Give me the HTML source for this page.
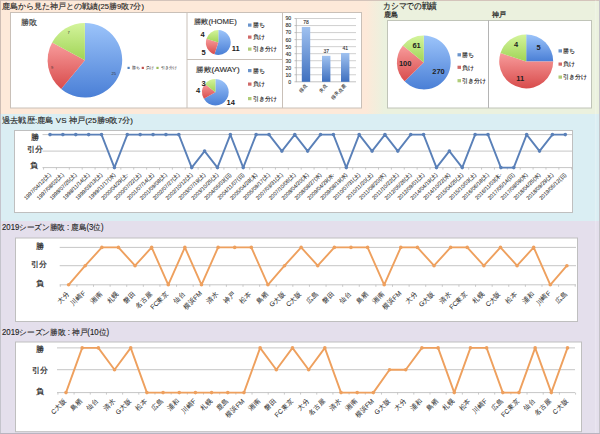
<!DOCTYPE html><html><head><meta charset="utf-8"><style>html,body{margin:0;padding:0;width:600px;height:434px;overflow:hidden;background:#fff}svg{display:block}text{font-family:'Liberation Sans',sans-serif}</style></head><body>
<svg width="600" height="434" viewBox="0 0 600 434">
<defs><linearGradient id="barg" x1="0" y1="0" x2="0" y2="1"><stop offset="0" stop-color="#a0c2f0"/><stop offset="1" stop-color="#3f70bf"/></linearGradient></defs>
<rect x="0" y="0" width="600" height="114" fill="#fde9d9"/>
<linearGradient id="pg" gradientUnits="userSpaceOnUse" x1="366" y1="0" x2="384" y2="0"><stop offset="0" stop-color="#fde9d9"/><stop offset="1" stop-color="#ebf1de"/></linearGradient>
<rect x="366" y="0" width="18" height="114" fill="url(#pg)"/>
<rect x="384" y="0" width="216" height="114" fill="#ebf1de"/>
<rect x="0" y="114" width="600" height="107" fill="#daeef3"/>
<line x1="0" y1="0.5" x2="600" y2="0.5" stroke="#d4c4bb" stroke-width="1"/>
<rect x="0" y="221" width="600" height="213" fill="#e4dfec"/>
<text x="2" y="8.6" font-size="7.6" text-anchor="start" fill="#222" font-weight="normal"  stroke="#222" stroke-width="0.12" textLength="142" lengthAdjust="spacingAndGlyphs">鹿島から見た神戸との戦績(25勝9敗7分)</text>
<text x="383.3" y="9" font-size="8.8" text-anchor="start" fill="#222" font-weight="normal"  stroke="#222" stroke-width="0.2" textLength="53.5" lengthAdjust="spacingAndGlyphs">カシマでの戦績</text>
<text x="383.8" y="16.8" font-size="6.6" text-anchor="start" fill="#222" font-weight="normal"  stroke="#222" stroke-width="0.22">鹿島</text>
<text x="491.8" y="16.9" font-size="6.6" text-anchor="start" fill="#222" font-weight="normal"  stroke="#222" stroke-width="0.22">神戸</text>
<rect x="10.5" y="12.5" width="351" height="95.5" fill="#fff" stroke="#c9c0b8" stroke-width="1"/>
<line x1="187" y1="12" x2="187" y2="108" stroke="#c9c0b8"/>
<line x1="187" y1="59.5" x2="282" y2="59.5" stroke="#c9c0b8"/>
<line x1="282.5" y1="12" x2="282.5" y2="108" stroke="#c9c0b8"/>
<text x="21.3" y="24.6" font-size="8" text-anchor="start" fill="#333" font-weight="normal"  stroke="#333" stroke-width="0.15">勝敗</text>
<linearGradient id="g1" x1="0" y1="0" x2="0" y2="1"><stop offset="0" stop-color="#9cc4fa"/><stop offset="1" stop-color="#4a7fd6"/></linearGradient>
<path d="M84.90,60.20 L84.90,22.90 A37.3,37.3 0 1 1 61.17,88.98 Z" fill="url(#g1)"/>
<linearGradient id="g2" x1="0" y1="0" x2="0" y2="1"><stop offset="0" stop-color="#f89c9c"/><stop offset="1" stop-color="#d84c4c"/></linearGradient>
<path d="M84.90,60.20 L61.17,88.98 A37.3,37.3 0 0 1 52.13,42.38 Z" fill="url(#g2)"/>
<linearGradient id="g3" x1="0" y1="0" x2="0" y2="1"><stop offset="0" stop-color="#d4f49c"/><stop offset="1" stop-color="#a0d456"/></linearGradient>
<path d="M84.90,60.20 L52.13,42.38 A37.3,37.3 0 0 1 84.90,22.90 Z" fill="url(#g3)"/>
<text x="67.6" y="34" font-size="4" text-anchor="start" fill="#333" font-weight="normal" >7</text>
<text x="51.1" y="69" font-size="4" text-anchor="start" fill="#333" font-weight="normal" >9</text>
<text x="111.5" y="74.6" font-size="4" text-anchor="start" fill="#333" font-weight="normal" >25</text>
<rect x="127.5" y="66.8" width="2.2" height="2.2" fill="#4f81bd"/>
<text x="131.7" y="69.4" font-size="4.1" text-anchor="start" fill="#222" font-weight="normal" >勝ち</text>
<rect x="141.7" y="66.8" width="2.2" height="2.2" fill="#c0504d"/>
<text x="145.89999999999998" y="69.4" font-size="4.1" text-anchor="start" fill="#222" font-weight="normal" >負け</text>
<rect x="156.4" y="66.8" width="2.2" height="2.2" fill="#9bbb59"/>
<text x="160.6" y="69.4" font-size="4.1" text-anchor="start" fill="#222" font-weight="normal" >引き分け</text>
<text x="193.8" y="23.6" font-size="7.4" text-anchor="start" fill="#333" font-weight="normal"  stroke="#333" stroke-width="0.15" textLength="43" lengthAdjust="spacingAndGlyphs">勝敗(HOME)</text>
<linearGradient id="g4" x1="0" y1="0" x2="0" y2="1"><stop offset="0" stop-color="#9cc4fa"/><stop offset="1" stop-color="#4a7fd6"/></linearGradient>
<path d="M218.30,42.50 L218.30,30.10 A12.4,12.4 0 1 1 214.47,54.29 Z" fill="url(#g4)"/>
<linearGradient id="g5" x1="0" y1="0" x2="0" y2="1"><stop offset="0" stop-color="#f89c9c"/><stop offset="1" stop-color="#d84c4c"/></linearGradient>
<path d="M218.30,42.50 L214.47,54.29 A12.4,12.4 0 0 1 206.51,38.67 Z" fill="url(#g5)"/>
<linearGradient id="g6" x1="0" y1="0" x2="0" y2="1"><stop offset="0" stop-color="#d4f49c"/><stop offset="1" stop-color="#a0d456"/></linearGradient>
<path d="M218.30,42.50 L206.51,38.67 A12.4,12.4 0 0 1 218.30,30.10 Z" fill="url(#g6)"/>
<text x="202.5" y="36.5" font-size="7.5" text-anchor="middle" fill="#222" font-weight="bold" >4</text>
<text x="203.6" y="55.4" font-size="7.5" text-anchor="middle" fill="#222" font-weight="bold" >5</text>
<text x="235.8" y="51.2" font-size="7.5" text-anchor="middle" fill="#222" font-weight="bold" >11</text>
<rect x="248" y="23.5" width="3.5" height="3.2" fill="#6a94cc"/>
<text x="252.5" y="27.4" font-size="6" fill="#222" stroke="#222" stroke-width="0.12">勝ち</text>
<rect x="248" y="35.5" width="3.5" height="3.2" fill="#d06a68"/>
<text x="252.5" y="39.4" font-size="6" fill="#222" stroke="#222" stroke-width="0.12">負け</text>
<rect x="248" y="47.5" width="3.5" height="3.2" fill="#b0cc78"/>
<text x="252.5" y="51.4" font-size="6" fill="#222" stroke="#222" stroke-width="0.12">引き分け</text>
<text x="196.3" y="72.2" font-size="7.4" text-anchor="start" fill="#333" font-weight="normal"  stroke="#333" stroke-width="0.15" textLength="43.3" lengthAdjust="spacingAndGlyphs">勝敗(AWAY)</text>
<linearGradient id="g7" x1="0" y1="0" x2="0" y2="1"><stop offset="0" stop-color="#9cc4fa"/><stop offset="1" stop-color="#4a7fd6"/></linearGradient>
<path d="M215.40,92.20 L215.40,78.90 A13.3,13.3 0 1 1 203.88,98.85 Z" fill="url(#g7)"/>
<linearGradient id="g8" x1="0" y1="0" x2="0" y2="1"><stop offset="0" stop-color="#f89c9c"/><stop offset="1" stop-color="#d84c4c"/></linearGradient>
<path d="M215.40,92.20 L203.88,98.85 A13.3,13.3 0 0 1 205.00,83.91 Z" fill="url(#g8)"/>
<linearGradient id="g9" x1="0" y1="0" x2="0" y2="1"><stop offset="0" stop-color="#d4f49c"/><stop offset="1" stop-color="#a0d456"/></linearGradient>
<path d="M215.40,92.20 L205.00,83.91 A13.3,13.3 0 0 1 215.40,78.90 Z" fill="url(#g9)"/>
<text x="203.7" y="86" font-size="7.5" text-anchor="middle" fill="#222" font-weight="bold" >3</text>
<text x="198" y="93" font-size="7.5" text-anchor="middle" fill="#222" font-weight="bold" >4</text>
<text x="230.7" y="105.2" font-size="7.5" text-anchor="middle" fill="#222" font-weight="bold" >14</text>
<rect x="248" y="69.0" width="3.5" height="3.2" fill="#6a94cc"/>
<text x="252.5" y="72.9" font-size="6" fill="#222" stroke="#222" stroke-width="0.12">勝ち</text>
<rect x="248" y="82.5" width="3.5" height="3.2" fill="#d06a68"/>
<text x="252.5" y="86.4" font-size="6" fill="#222" stroke="#222" stroke-width="0.12">負け</text>
<rect x="248" y="97.0" width="3.5" height="3.2" fill="#b0cc78"/>
<text x="252.5" y="100.9" font-size="6" fill="#222" stroke="#222" stroke-width="0.12">引き分け</text>
<line x1="294.5" y1="81.80" x2="296.3" y2="81.80" stroke="#999" stroke-width="0.6"/>
<text x="291.2" y="83.7" font-size="5.2" text-anchor="end" fill="#333" font-weight="normal"  stroke="#333" stroke-width="0.12">0</text>
<line x1="296.3" y1="74.77" x2="356" y2="74.77" stroke="#c4c4c4" stroke-width="0.8"/>
<line x1="294.5" y1="74.77" x2="296.3" y2="74.77" stroke="#999" stroke-width="0.6"/>
<text x="291.2" y="76.67" font-size="5.2" text-anchor="end" fill="#333" font-weight="normal"  stroke="#333" stroke-width="0.12">10</text>
<line x1="296.3" y1="67.74" x2="356" y2="67.74" stroke="#c4c4c4" stroke-width="0.8"/>
<line x1="294.5" y1="67.74" x2="296.3" y2="67.74" stroke="#999" stroke-width="0.6"/>
<text x="291.2" y="69.64" font-size="5.2" text-anchor="end" fill="#333" font-weight="normal"  stroke="#333" stroke-width="0.12">20</text>
<line x1="296.3" y1="60.71" x2="356" y2="60.71" stroke="#c4c4c4" stroke-width="0.8"/>
<line x1="294.5" y1="60.71" x2="296.3" y2="60.71" stroke="#999" stroke-width="0.6"/>
<text x="291.2" y="62.60999999999999" font-size="5.2" text-anchor="end" fill="#333" font-weight="normal"  stroke="#333" stroke-width="0.12">30</text>
<line x1="296.3" y1="53.68" x2="356" y2="53.68" stroke="#c4c4c4" stroke-width="0.8"/>
<line x1="294.5" y1="53.68" x2="296.3" y2="53.68" stroke="#999" stroke-width="0.6"/>
<text x="291.2" y="55.58" font-size="5.2" text-anchor="end" fill="#333" font-weight="normal"  stroke="#333" stroke-width="0.12">40</text>
<line x1="296.3" y1="46.65" x2="356" y2="46.65" stroke="#c4c4c4" stroke-width="0.8"/>
<line x1="294.5" y1="46.65" x2="296.3" y2="46.65" stroke="#999" stroke-width="0.6"/>
<text x="291.2" y="48.55" font-size="5.2" text-anchor="end" fill="#333" font-weight="normal"  stroke="#333" stroke-width="0.12">50</text>
<line x1="296.3" y1="39.62" x2="356" y2="39.62" stroke="#c4c4c4" stroke-width="0.8"/>
<line x1="294.5" y1="39.62" x2="296.3" y2="39.62" stroke="#999" stroke-width="0.6"/>
<text x="291.2" y="41.519999999999996" font-size="5.2" text-anchor="end" fill="#333" font-weight="normal"  stroke="#333" stroke-width="0.12">60</text>
<line x1="296.3" y1="32.59" x2="356" y2="32.59" stroke="#c4c4c4" stroke-width="0.8"/>
<line x1="294.5" y1="32.59" x2="296.3" y2="32.59" stroke="#999" stroke-width="0.6"/>
<text x="291.2" y="34.49" font-size="5.2" text-anchor="end" fill="#333" font-weight="normal"  stroke="#333" stroke-width="0.12">70</text>
<line x1="296.3" y1="25.56" x2="356" y2="25.56" stroke="#c4c4c4" stroke-width="0.8"/>
<line x1="294.5" y1="25.56" x2="296.3" y2="25.56" stroke="#999" stroke-width="0.6"/>
<text x="291.2" y="27.46" font-size="5.2" text-anchor="end" fill="#333" font-weight="normal"  stroke="#333" stroke-width="0.12">80</text>
<line x1="296.3" y1="18.53" x2="356" y2="18.53" stroke="#c4c4c4" stroke-width="0.8"/>
<line x1="294.5" y1="18.53" x2="296.3" y2="18.53" stroke="#999" stroke-width="0.6"/>
<text x="291.2" y="20.43" font-size="5.2" text-anchor="end" fill="#333" font-weight="normal"  stroke="#333" stroke-width="0.12">90</text>
<line x1="296.3" y1="18.53" x2="296.3" y2="81.8" stroke="#a8a8a8" stroke-width="0.7"/>
<line x1="296" y1="81.8" x2="356" y2="81.8" stroke="#a8a8a8" stroke-width="0.7"/>
<rect x="301.8" y="26.97" width="8.4" height="54.83" fill="url(#barg)"/>
<text x="306.05" y="24.466" font-size="5" text-anchor="middle" fill="#333" font-weight="normal"  stroke="#333" stroke-width="0.1">78</text>
<text x="307.8" y="85.8" font-size="4.6" text-anchor="end" fill="#333" stroke="#333" stroke-width="0.1" transform="rotate(-45 307.8 85.8)">得点</text>
<rect x="322" y="55.79" width="8.4" height="26.01" fill="url(#barg)"/>
<text x="326.25" y="53.289" font-size="5" text-anchor="middle" fill="#333" font-weight="normal"  stroke="#333" stroke-width="0.1">37</text>
<text x="328" y="85.8" font-size="4.6" text-anchor="end" fill="#333" stroke="#333" stroke-width="0.1" transform="rotate(-45 328 85.8)">失点</text>
<rect x="341" y="52.98" width="8.4" height="28.82" fill="url(#barg)"/>
<text x="345.25" y="50.477000000000004" font-size="5" text-anchor="middle" fill="#333" font-weight="normal"  stroke="#333" stroke-width="0.1">41</text>
<text x="347" y="85.8" font-size="4.6" text-anchor="end" fill="#333" stroke="#333" stroke-width="0.1" transform="rotate(-45 347 85.8)">得失点差</text>
<rect x="387.5" y="20.5" width="204" height="87.5" fill="#fff" stroke="#c0c4b8" stroke-width="1"/>
<line x1="488.5" y1="20" x2="488.5" y2="108" stroke="#b4b4b4"/>
<linearGradient id="g10" x1="0" y1="0" x2="0" y2="1"><stop offset="0" stop-color="#9cc4fa"/><stop offset="1" stop-color="#4a7fd6"/></linearGradient>
<path d="M423.80,62.50 L423.80,35.60 A26.9,26.9 0 1 1 404.61,81.35 Z" fill="url(#g10)"/>
<linearGradient id="g11" x1="0" y1="0" x2="0" y2="1"><stop offset="0" stop-color="#f89c9c"/><stop offset="1" stop-color="#d84c4c"/></linearGradient>
<path d="M423.80,62.50 L404.61,81.35 A26.9,26.9 0 0 1 402.91,45.55 Z" fill="url(#g11)"/>
<linearGradient id="g12" x1="0" y1="0" x2="0" y2="1"><stop offset="0" stop-color="#d4f49c"/><stop offset="1" stop-color="#a0d456"/></linearGradient>
<path d="M423.80,62.50 L402.91,45.55 A26.9,26.9 0 0 1 423.80,35.60 Z" fill="url(#g12)"/>
<text x="416.6" y="48.4" font-size="7.5" text-anchor="middle" fill="#222" font-weight="bold" >61</text>
<text x="405.2" y="66.3" font-size="7.5" text-anchor="middle" fill="#222" font-weight="bold" >100</text>
<text x="438.5" y="74" font-size="7.5" text-anchor="middle" fill="#222" font-weight="bold" >270</text>
<rect x="457.5" y="53.2" width="3.5" height="3.2" fill="#6a94cc"/>
<text x="462.0" y="57.1" font-size="6" fill="#222" stroke="#222" stroke-width="0.12">勝ち</text>
<rect x="457.5" y="65.7" width="3.5" height="3.2" fill="#d06a68"/>
<text x="462.0" y="69.60000000000001" font-size="6" fill="#222" stroke="#222" stroke-width="0.12">負け</text>
<rect x="457.5" y="79.1" width="3.5" height="3.2" fill="#b0cc78"/>
<text x="462.0" y="83.0" font-size="6" fill="#222" stroke="#222" stroke-width="0.12">引き分け</text>
<linearGradient id="g13" x1="0" y1="0" x2="0" y2="1"><stop offset="0" stop-color="#9cc4fa"/><stop offset="1" stop-color="#4a7fd6"/></linearGradient>
<path d="M526.20,61.40 L526.20,34.40 A27,27 0 0 1 553.20,61.40 Z" fill="url(#g13)"/>
<linearGradient id="g14" x1="0" y1="0" x2="0" y2="1"><stop offset="0" stop-color="#f89c9c"/><stop offset="1" stop-color="#d84c4c"/></linearGradient>
<path d="M526.20,61.40 L553.20,61.40 A27,27 0 1 1 500.52,53.06 Z" fill="url(#g14)"/>
<linearGradient id="g15" x1="0" y1="0" x2="0" y2="1"><stop offset="0" stop-color="#d4f49c"/><stop offset="1" stop-color="#a0d456"/></linearGradient>
<path d="M526.20,61.40 L500.52,53.06 A27,27 0 0 1 526.20,34.40 Z" fill="url(#g15)"/>
<text x="538.5" y="49.8" font-size="7.5" text-anchor="middle" fill="#222" font-weight="bold" >5</text>
<text x="516" y="47.1" font-size="7.5" text-anchor="middle" fill="#222" font-weight="bold" >4</text>
<text x="520.2" y="80.6" font-size="7.5" text-anchor="middle" fill="#222" font-weight="bold" >11</text>
<rect x="558.5" y="49.3" width="3.5" height="3.2" fill="#6a94cc"/>
<text x="563.0" y="53.199999999999996" font-size="6" fill="#222" stroke="#222" stroke-width="0.12">勝ち</text>
<rect x="558.5" y="62.5" width="3.5" height="3.2" fill="#d06a68"/>
<text x="563.0" y="66.4" font-size="6" fill="#222" stroke="#222" stroke-width="0.12">負け</text>
<rect x="558.5" y="75.5" width="3.5" height="3.2" fill="#b0cc78"/>
<text x="563.0" y="79.4" font-size="6" fill="#222" stroke="#222" stroke-width="0.12">引き分け</text>
<text x="2" y="123.3" font-size="7.8" text-anchor="start" fill="#222" font-weight="normal"  stroke="#222" stroke-width="0.12" textLength="131" lengthAdjust="spacingAndGlyphs">過去戦歴:鹿島 VS 神戸(25勝9敗7分)</text>
<rect x="14.5" y="130.5" width="558" height="82" fill="#fff" stroke="#bfbfbf" stroke-width="1"/>
<line x1="42.5" y1="134.6" x2="572" y2="134.6" stroke="#c6c6c6" stroke-width="1"/>
<line x1="42.5" y1="151.1" x2="572" y2="151.1" stroke="#c6c6c6" stroke-width="1"/>
<line x1="42.5" y1="167.6" x2="572" y2="167.6" stroke="#c6c6c6" stroke-width="1"/>
<line x1="43.56" y1="167.6" x2="43.56" y2="169.6" stroke="#bdbdbd" stroke-width="0.8"/>
<line x1="56.44" y1="167.6" x2="56.44" y2="169.6" stroke="#bdbdbd" stroke-width="0.8"/>
<line x1="69.32" y1="167.6" x2="69.32" y2="169.6" stroke="#bdbdbd" stroke-width="0.8"/>
<line x1="82.21" y1="167.6" x2="82.21" y2="169.6" stroke="#bdbdbd" stroke-width="0.8"/>
<line x1="95.09" y1="167.6" x2="95.09" y2="169.6" stroke="#bdbdbd" stroke-width="0.8"/>
<line x1="107.97" y1="167.6" x2="107.97" y2="169.6" stroke="#bdbdbd" stroke-width="0.8"/>
<line x1="120.85" y1="167.6" x2="120.85" y2="169.6" stroke="#bdbdbd" stroke-width="0.8"/>
<line x1="133.74" y1="167.6" x2="133.74" y2="169.6" stroke="#bdbdbd" stroke-width="0.8"/>
<line x1="146.62" y1="167.6" x2="146.62" y2="169.6" stroke="#bdbdbd" stroke-width="0.8"/>
<line x1="159.50" y1="167.6" x2="159.50" y2="169.6" stroke="#bdbdbd" stroke-width="0.8"/>
<line x1="172.38" y1="167.6" x2="172.38" y2="169.6" stroke="#bdbdbd" stroke-width="0.8"/>
<line x1="185.27" y1="167.6" x2="185.27" y2="169.6" stroke="#bdbdbd" stroke-width="0.8"/>
<line x1="198.15" y1="167.6" x2="198.15" y2="169.6" stroke="#bdbdbd" stroke-width="0.8"/>
<line x1="211.03" y1="167.6" x2="211.03" y2="169.6" stroke="#bdbdbd" stroke-width="0.8"/>
<line x1="223.91" y1="167.6" x2="223.91" y2="169.6" stroke="#bdbdbd" stroke-width="0.8"/>
<line x1="236.80" y1="167.6" x2="236.80" y2="169.6" stroke="#bdbdbd" stroke-width="0.8"/>
<line x1="249.68" y1="167.6" x2="249.68" y2="169.6" stroke="#bdbdbd" stroke-width="0.8"/>
<line x1="262.56" y1="167.6" x2="262.56" y2="169.6" stroke="#bdbdbd" stroke-width="0.8"/>
<line x1="275.44" y1="167.6" x2="275.44" y2="169.6" stroke="#bdbdbd" stroke-width="0.8"/>
<line x1="288.33" y1="167.6" x2="288.33" y2="169.6" stroke="#bdbdbd" stroke-width="0.8"/>
<line x1="301.21" y1="167.6" x2="301.21" y2="169.6" stroke="#bdbdbd" stroke-width="0.8"/>
<line x1="314.09" y1="167.6" x2="314.09" y2="169.6" stroke="#bdbdbd" stroke-width="0.8"/>
<line x1="326.97" y1="167.6" x2="326.97" y2="169.6" stroke="#bdbdbd" stroke-width="0.8"/>
<line x1="339.86" y1="167.6" x2="339.86" y2="169.6" stroke="#bdbdbd" stroke-width="0.8"/>
<line x1="352.74" y1="167.6" x2="352.74" y2="169.6" stroke="#bdbdbd" stroke-width="0.8"/>
<line x1="365.62" y1="167.6" x2="365.62" y2="169.6" stroke="#bdbdbd" stroke-width="0.8"/>
<line x1="378.50" y1="167.6" x2="378.50" y2="169.6" stroke="#bdbdbd" stroke-width="0.8"/>
<line x1="391.39" y1="167.6" x2="391.39" y2="169.6" stroke="#bdbdbd" stroke-width="0.8"/>
<line x1="404.27" y1="167.6" x2="404.27" y2="169.6" stroke="#bdbdbd" stroke-width="0.8"/>
<line x1="417.15" y1="167.6" x2="417.15" y2="169.6" stroke="#bdbdbd" stroke-width="0.8"/>
<line x1="430.03" y1="167.6" x2="430.03" y2="169.6" stroke="#bdbdbd" stroke-width="0.8"/>
<line x1="442.92" y1="167.6" x2="442.92" y2="169.6" stroke="#bdbdbd" stroke-width="0.8"/>
<line x1="455.80" y1="167.6" x2="455.80" y2="169.6" stroke="#bdbdbd" stroke-width="0.8"/>
<line x1="468.68" y1="167.6" x2="468.68" y2="169.6" stroke="#bdbdbd" stroke-width="0.8"/>
<line x1="481.56" y1="167.6" x2="481.56" y2="169.6" stroke="#bdbdbd" stroke-width="0.8"/>
<line x1="494.45" y1="167.6" x2="494.45" y2="169.6" stroke="#bdbdbd" stroke-width="0.8"/>
<line x1="507.33" y1="167.6" x2="507.33" y2="169.6" stroke="#bdbdbd" stroke-width="0.8"/>
<line x1="520.21" y1="167.6" x2="520.21" y2="169.6" stroke="#bdbdbd" stroke-width="0.8"/>
<line x1="533.09" y1="167.6" x2="533.09" y2="169.6" stroke="#bdbdbd" stroke-width="0.8"/>
<line x1="545.98" y1="167.6" x2="545.98" y2="169.6" stroke="#bdbdbd" stroke-width="0.8"/>
<line x1="558.86" y1="167.6" x2="558.86" y2="169.6" stroke="#bdbdbd" stroke-width="0.8"/>
<line x1="571.74" y1="167.6" x2="571.74" y2="169.6" stroke="#bdbdbd" stroke-width="0.8"/>
<text x="35.3" y="140.28" font-size="8" text-anchor="middle" fill="#222" font-weight="normal"  stroke="#222" stroke-width="0.2">勝</text>
<text x="34.8" y="152.07999999999998" font-size="8" text-anchor="middle" fill="#222" font-weight="normal"  stroke="#222" stroke-width="0.2">引分</text>
<text x="33.6" y="167.88" font-size="8" text-anchor="middle" fill="#222" font-weight="normal"  stroke="#222" stroke-width="0.2">負</text>
<polyline points="50.00,134.6 62.88,134.6 75.77,134.6 88.65,134.6 101.53,134.6 114.41,167.6 127.29,134.6 140.18,134.6 153.06,134.6 165.94,134.6 178.82,134.6 191.71,167.6 204.59,151.1 217.47,167.6 230.35,134.6 243.24,167.6 256.12,134.6 269.00,134.6 281.88,151.1 294.77,134.6 307.65,151.1 320.53,134.6 333.41,134.6 346.30,167.6 359.18,134.6 372.06,151.1 384.94,134.6 397.83,151.1 410.71,134.6 423.59,134.6 436.47,167.6 449.36,151.1 462.24,167.6 475.12,134.6 488.00,134.6 500.89,167.6 513.77,167.6 526.65,134.6 539.53,151.1 552.42,134.6 565.30,134.6" fill="none" stroke="#5a80b8" stroke-width="1.9" stroke-linejoin="round"/>
<circle cx="50.00" cy="134.6" r="1.8" fill="#5a80b8"/>
<circle cx="62.88" cy="134.6" r="1.8" fill="#5a80b8"/>
<circle cx="75.77" cy="134.6" r="1.8" fill="#5a80b8"/>
<circle cx="88.65" cy="134.6" r="1.8" fill="#5a80b8"/>
<circle cx="101.53" cy="134.6" r="1.8" fill="#5a80b8"/>
<circle cx="114.41" cy="167.6" r="1.8" fill="#5a80b8"/>
<circle cx="127.29" cy="134.6" r="1.8" fill="#5a80b8"/>
<circle cx="140.18" cy="134.6" r="1.8" fill="#5a80b8"/>
<circle cx="153.06" cy="134.6" r="1.8" fill="#5a80b8"/>
<circle cx="165.94" cy="134.6" r="1.8" fill="#5a80b8"/>
<circle cx="178.82" cy="134.6" r="1.8" fill="#5a80b8"/>
<circle cx="191.71" cy="167.6" r="1.8" fill="#5a80b8"/>
<circle cx="204.59" cy="151.1" r="1.8" fill="#5a80b8"/>
<circle cx="217.47" cy="167.6" r="1.8" fill="#5a80b8"/>
<circle cx="230.35" cy="134.6" r="1.8" fill="#5a80b8"/>
<circle cx="243.24" cy="167.6" r="1.8" fill="#5a80b8"/>
<circle cx="256.12" cy="134.6" r="1.8" fill="#5a80b8"/>
<circle cx="269.00" cy="134.6" r="1.8" fill="#5a80b8"/>
<circle cx="281.88" cy="151.1" r="1.8" fill="#5a80b8"/>
<circle cx="294.77" cy="134.6" r="1.8" fill="#5a80b8"/>
<circle cx="307.65" cy="151.1" r="1.8" fill="#5a80b8"/>
<circle cx="320.53" cy="134.6" r="1.8" fill="#5a80b8"/>
<circle cx="333.41" cy="134.6" r="1.8" fill="#5a80b8"/>
<circle cx="346.30" cy="167.6" r="1.8" fill="#5a80b8"/>
<circle cx="359.18" cy="134.6" r="1.8" fill="#5a80b8"/>
<circle cx="372.06" cy="151.1" r="1.8" fill="#5a80b8"/>
<circle cx="384.94" cy="134.6" r="1.8" fill="#5a80b8"/>
<circle cx="397.83" cy="151.1" r="1.8" fill="#5a80b8"/>
<circle cx="410.71" cy="134.6" r="1.8" fill="#5a80b8"/>
<circle cx="423.59" cy="134.6" r="1.8" fill="#5a80b8"/>
<circle cx="436.47" cy="167.6" r="1.8" fill="#5a80b8"/>
<circle cx="449.36" cy="151.1" r="1.8" fill="#5a80b8"/>
<circle cx="462.24" cy="167.6" r="1.8" fill="#5a80b8"/>
<circle cx="475.12" cy="134.6" r="1.8" fill="#5a80b8"/>
<circle cx="488.00" cy="134.6" r="1.8" fill="#5a80b8"/>
<circle cx="500.89" cy="167.6" r="1.8" fill="#5a80b8"/>
<circle cx="513.77" cy="167.6" r="1.8" fill="#5a80b8"/>
<circle cx="526.65" cy="134.6" r="1.8" fill="#5a80b8"/>
<circle cx="539.53" cy="151.1" r="1.8" fill="#5a80b8"/>
<circle cx="552.42" cy="134.6" r="1.8" fill="#5a80b8"/>
<circle cx="565.30" cy="134.6" r="1.8" fill="#5a80b8"/>
<text x="51.30" y="175.2" font-size="5.4" text-anchor="end" fill="#333" stroke="#333" stroke-width="0.1" transform="rotate(-45 51.30 175.2)">1997/04/12(土)</text>
<text x="64.18" y="175.2" font-size="5.4" text-anchor="end" fill="#333" stroke="#333" stroke-width="0.1" transform="rotate(-45 64.18 175.2)">1997/08/02(土)</text>
<text x="77.06" y="175.2" font-size="5.4" text-anchor="end" fill="#333" stroke="#333" stroke-width="0.1" transform="rotate(-45 77.06 175.2)">1998/07/25(土)</text>
<text x="89.95" y="175.2" font-size="5.4" text-anchor="end" fill="#333" stroke="#333" stroke-width="0.1" transform="rotate(-45 89.95 175.2)">1998/11/14(土)</text>
<text x="102.83" y="175.2" font-size="5.4" text-anchor="end" fill="#333" stroke="#333" stroke-width="0.1" transform="rotate(-45 102.83 175.2)">1999/03/13(土)</text>
<text x="115.71" y="175.2" font-size="5.4" text-anchor="end" fill="#333" stroke="#333" stroke-width="0.1" transform="rotate(-45 115.71 175.2)">1999/11/17(水)</text>
<text x="128.59" y="175.2" font-size="5.4" text-anchor="end" fill="#333" stroke="#333" stroke-width="0.1" transform="rotate(-45 128.59 175.2)">2000/04/29(土-</text>
<text x="141.48" y="175.2" font-size="5.4" text-anchor="end" fill="#333" stroke="#333" stroke-width="0.1" transform="rotate(-45 141.48 175.2)">2000/07/22(土)</text>
<text x="154.36" y="175.2" font-size="5.4" text-anchor="end" fill="#333" stroke="#333" stroke-width="0.1" transform="rotate(-45 154.36 175.2)">2001/07/14(土)</text>
<text x="167.24" y="175.2" font-size="5.4" text-anchor="end" fill="#333" stroke="#333" stroke-width="0.1" transform="rotate(-45 167.24 175.2)">2001/09/08(土)</text>
<text x="180.12" y="175.2" font-size="5.4" text-anchor="end" fill="#333" stroke="#333" stroke-width="0.1" transform="rotate(-45 180.12 175.2)">2002/07/27(土)</text>
<text x="193.01" y="175.2" font-size="5.4" text-anchor="end" fill="#333" stroke="#333" stroke-width="0.1" transform="rotate(-45 193.01 175.2)">2002/10/12(土)</text>
<text x="205.89" y="175.2" font-size="5.4" text-anchor="end" fill="#333" stroke="#333" stroke-width="0.1" transform="rotate(-45 205.89 175.2)">2003/07/19(土)</text>
<text x="218.77" y="175.2" font-size="5.4" text-anchor="end" fill="#333" stroke="#333" stroke-width="0.1" transform="rotate(-45 218.77 175.2)">2003/10/25(土)</text>
<text x="231.65" y="175.2" font-size="5.4" text-anchor="end" fill="#333" stroke="#333" stroke-width="0.1" transform="rotate(-45 231.65 175.2)">2004/05/03(日)</text>
<text x="244.54" y="175.2" font-size="5.4" text-anchor="end" fill="#333" stroke="#333" stroke-width="0.1" transform="rotate(-45 244.54 175.2)">2004/11/07(日)</text>
<text x="257.42" y="175.2" font-size="5.4" text-anchor="end" fill="#333" stroke="#333" stroke-width="0.1" transform="rotate(-45 257.42 175.2)">2005/04/28(木)</text>
<text x="270.30" y="175.2" font-size="5.4" text-anchor="end" fill="#333" stroke="#333" stroke-width="0.1" transform="rotate(-45 270.30 175.2)">2005/09/17(土)</text>
<text x="283.19" y="175.2" font-size="5.4" text-anchor="end" fill="#333" stroke="#333" stroke-width="0.1" transform="rotate(-45 283.19 175.2)">2007/03/31(土)</text>
<text x="296.07" y="175.2" font-size="5.4" text-anchor="end" fill="#333" stroke="#333" stroke-width="0.1" transform="rotate(-45 296.07 175.2)">2007/10/06(土)</text>
<text x="308.95" y="175.2" font-size="5.4" text-anchor="end" fill="#333" stroke="#333" stroke-width="0.1" transform="rotate(-45 308.95 175.2)">2008/04/20(木)</text>
<text x="321.83" y="175.2" font-size="5.4" text-anchor="end" fill="#333" stroke="#333" stroke-width="0.1" transform="rotate(-45 321.83 175.2)">2008/08/27(水)</text>
<text x="334.71" y="175.2" font-size="5.4" text-anchor="end" fill="#333" stroke="#333" stroke-width="0.1" transform="rotate(-45 334.71 175.2)">2009/04/29(水-</text>
<text x="347.60" y="175.2" font-size="5.4" text-anchor="end" fill="#333" stroke="#333" stroke-width="0.1" transform="rotate(-45 347.60 175.2)">2009/08/19(水)</text>
<text x="360.48" y="175.2" font-size="5.4" text-anchor="end" fill="#333" stroke="#333" stroke-width="0.1" transform="rotate(-45 360.48 175.2)">2010/07/31(土)</text>
<text x="373.36" y="175.2" font-size="5.4" text-anchor="end" fill="#333" stroke="#333" stroke-width="0.1" transform="rotate(-45 373.36 175.2)">2010/11/20(土)</text>
<text x="386.25" y="175.2" font-size="5.4" text-anchor="end" fill="#333" stroke="#333" stroke-width="0.1" transform="rotate(-45 386.25 175.2)">2011/08/20(水)</text>
<text x="399.13" y="175.2" font-size="5.4" text-anchor="end" fill="#333" stroke="#333" stroke-width="0.1" transform="rotate(-45 399.13 175.2)">2011/10/22(土)</text>
<text x="412.01" y="175.2" font-size="5.4" text-anchor="end" fill="#333" stroke="#333" stroke-width="0.1" transform="rotate(-45 412.01 175.2)">2012/05/26(土)</text>
<text x="424.89" y="175.2" font-size="5.4" text-anchor="end" fill="#333" stroke="#333" stroke-width="0.1" transform="rotate(-45 424.89 175.2)">2012/09/01(土)</text>
<text x="437.77" y="175.2" font-size="5.4" text-anchor="end" fill="#333" stroke="#333" stroke-width="0.1" transform="rotate(-45 437.77 175.2)">2014/04/19(土)</text>
<text x="450.66" y="175.2" font-size="5.4" text-anchor="end" fill="#333" stroke="#333" stroke-width="0.1" transform="rotate(-45 450.66 175.2)">2014/10/22(水)</text>
<text x="463.54" y="175.2" font-size="5.4" text-anchor="end" fill="#333" stroke="#333" stroke-width="0.1" transform="rotate(-45 463.54 175.2)">2015/04/25(土)</text>
<text x="476.42" y="175.2" font-size="5.4" text-anchor="end" fill="#333" stroke="#333" stroke-width="0.1" transform="rotate(-45 476.42 175.2)">2015/10/03(土)</text>
<text x="489.30" y="175.2" font-size="5.4" text-anchor="end" fill="#333" stroke="#333" stroke-width="0.1" transform="rotate(-45 489.30 175.2)">2016/06/18(土)</text>
<text x="502.19" y="175.2" font-size="5.4" text-anchor="end" fill="#333" stroke="#333" stroke-width="0.1" transform="rotate(-45 502.19 175.2)">2016/11/03(木-</text>
<text x="515.07" y="175.2" font-size="5.4" text-anchor="end" fill="#333" stroke="#333" stroke-width="0.1" transform="rotate(-45 515.07 175.2)">2017/05/14(日)</text>
<text x="527.95" y="175.2" font-size="5.4" text-anchor="end" fill="#333" stroke="#333" stroke-width="0.1" transform="rotate(-45 527.95 175.2)">2017/08/09(水)</text>
<text x="540.83" y="175.2" font-size="5.4" text-anchor="end" fill="#333" stroke="#333" stroke-width="0.1" transform="rotate(-45 540.83 175.2)">2018/04/25(水)</text>
<text x="553.72" y="175.2" font-size="5.4" text-anchor="end" fill="#333" stroke="#333" stroke-width="0.1" transform="rotate(-45 553.72 175.2)">2018/09/29(土)</text>
<text x="566.60" y="175.2" font-size="5.4" text-anchor="end" fill="#333" stroke="#333" stroke-width="0.1" transform="rotate(-45 566.60 175.2)">2019/05/12(日)</text>
<text x="2" y="229.6" font-size="8.2" text-anchor="start" fill="#222" font-weight="normal"  stroke="#222" stroke-width="0.12" textLength="101.5" lengthAdjust="spacingAndGlyphs">2019シーズン勝敗 : 鹿島(3位)</text>
<rect x="15.5" y="238.0" width="562" height="83.5" fill="#fff" stroke="#bfbfbf" stroke-width="1"/>
<line x1="59.7" y1="247.4" x2="576" y2="247.4" stroke="#c6c6c6" stroke-width="1"/>
<line x1="59.7" y1="265.7" x2="576" y2="265.7" stroke="#c6c6c6" stroke-width="1"/>
<line x1="59.7" y1="284.8" x2="576" y2="284.8" stroke="#c6c6c6" stroke-width="1"/>
<line x1="60.29" y1="284.8" x2="60.29" y2="286.8" stroke="#bdbdbd" stroke-width="0.8"/>
<line x1="76.91" y1="284.8" x2="76.91" y2="286.8" stroke="#bdbdbd" stroke-width="0.8"/>
<line x1="93.51" y1="284.8" x2="93.51" y2="286.8" stroke="#bdbdbd" stroke-width="0.8"/>
<line x1="110.12" y1="284.8" x2="110.12" y2="286.8" stroke="#bdbdbd" stroke-width="0.8"/>
<line x1="126.73" y1="284.8" x2="126.73" y2="286.8" stroke="#bdbdbd" stroke-width="0.8"/>
<line x1="143.34" y1="284.8" x2="143.34" y2="286.8" stroke="#bdbdbd" stroke-width="0.8"/>
<line x1="159.95" y1="284.8" x2="159.95" y2="286.8" stroke="#bdbdbd" stroke-width="0.8"/>
<line x1="176.56" y1="284.8" x2="176.56" y2="286.8" stroke="#bdbdbd" stroke-width="0.8"/>
<line x1="193.17" y1="284.8" x2="193.17" y2="286.8" stroke="#bdbdbd" stroke-width="0.8"/>
<line x1="209.78" y1="284.8" x2="209.78" y2="286.8" stroke="#bdbdbd" stroke-width="0.8"/>
<line x1="226.39" y1="284.8" x2="226.39" y2="286.8" stroke="#bdbdbd" stroke-width="0.8"/>
<line x1="243.00" y1="284.8" x2="243.00" y2="286.8" stroke="#bdbdbd" stroke-width="0.8"/>
<line x1="259.62" y1="284.8" x2="259.62" y2="286.8" stroke="#bdbdbd" stroke-width="0.8"/>
<line x1="276.23" y1="284.8" x2="276.23" y2="286.8" stroke="#bdbdbd" stroke-width="0.8"/>
<line x1="292.83" y1="284.8" x2="292.83" y2="286.8" stroke="#bdbdbd" stroke-width="0.8"/>
<line x1="309.44" y1="284.8" x2="309.44" y2="286.8" stroke="#bdbdbd" stroke-width="0.8"/>
<line x1="326.06" y1="284.8" x2="326.06" y2="286.8" stroke="#bdbdbd" stroke-width="0.8"/>
<line x1="342.67" y1="284.8" x2="342.67" y2="286.8" stroke="#bdbdbd" stroke-width="0.8"/>
<line x1="359.28" y1="284.8" x2="359.28" y2="286.8" stroke="#bdbdbd" stroke-width="0.8"/>
<line x1="375.88" y1="284.8" x2="375.88" y2="286.8" stroke="#bdbdbd" stroke-width="0.8"/>
<line x1="392.50" y1="284.8" x2="392.50" y2="286.8" stroke="#bdbdbd" stroke-width="0.8"/>
<line x1="409.11" y1="284.8" x2="409.11" y2="286.8" stroke="#bdbdbd" stroke-width="0.8"/>
<line x1="425.71" y1="284.8" x2="425.71" y2="286.8" stroke="#bdbdbd" stroke-width="0.8"/>
<line x1="442.32" y1="284.8" x2="442.32" y2="286.8" stroke="#bdbdbd" stroke-width="0.8"/>
<line x1="458.94" y1="284.8" x2="458.94" y2="286.8" stroke="#bdbdbd" stroke-width="0.8"/>
<line x1="475.55" y1="284.8" x2="475.55" y2="286.8" stroke="#bdbdbd" stroke-width="0.8"/>
<line x1="492.16" y1="284.8" x2="492.16" y2="286.8" stroke="#bdbdbd" stroke-width="0.8"/>
<line x1="508.76" y1="284.8" x2="508.76" y2="286.8" stroke="#bdbdbd" stroke-width="0.8"/>
<line x1="525.38" y1="284.8" x2="525.38" y2="286.8" stroke="#bdbdbd" stroke-width="0.8"/>
<line x1="541.99" y1="284.8" x2="541.99" y2="286.8" stroke="#bdbdbd" stroke-width="0.8"/>
<line x1="558.59" y1="284.8" x2="558.59" y2="286.8" stroke="#bdbdbd" stroke-width="0.8"/>
<line x1="575.20" y1="284.8" x2="575.20" y2="286.8" stroke="#bdbdbd" stroke-width="0.8"/>
<text x="39.5" y="248.89999999999998" font-size="7.5" text-anchor="middle" fill="#222" font-weight="normal"  stroke="#222" stroke-width="0.2">勝</text>
<text x="39.4" y="266.5" font-size="7.5" text-anchor="middle" fill="#222" font-weight="normal"  stroke="#222" stroke-width="0.2">引分</text>
<text x="40.3" y="285.5" font-size="7.5" text-anchor="middle" fill="#222" font-weight="normal"  stroke="#222" stroke-width="0.2">負</text>
<polyline points="68.60,284.8 85.21,265.7 101.82,247.4 118.43,247.4 135.04,265.7 151.65,247.4 168.26,284.8 184.87,247.4 201.48,284.8 218.09,247.4 234.70,247.4 251.31,247.4 267.92,284.8 284.53,265.7 301.14,247.4 317.75,265.7 334.36,247.4 350.97,247.4 367.58,247.4 384.19,284.8 400.80,247.4 417.41,247.4 434.02,265.7 450.63,247.4 467.24,247.4 483.85,265.7 500.46,247.4 517.07,265.7 533.68,247.4 550.29,284.8 566.90,265.7" fill="none" stroke="#eea05e" stroke-width="1.9" stroke-linejoin="round"/>
<circle cx="68.60" cy="284.8" r="1.8" fill="#eea05e"/>
<circle cx="85.21" cy="265.7" r="1.8" fill="#eea05e"/>
<circle cx="101.82" cy="247.4" r="1.8" fill="#eea05e"/>
<circle cx="118.43" cy="247.4" r="1.8" fill="#eea05e"/>
<circle cx="135.04" cy="265.7" r="1.8" fill="#eea05e"/>
<circle cx="151.65" cy="247.4" r="1.8" fill="#eea05e"/>
<circle cx="168.26" cy="284.8" r="1.8" fill="#eea05e"/>
<circle cx="184.87" cy="247.4" r="1.8" fill="#eea05e"/>
<circle cx="201.48" cy="284.8" r="1.8" fill="#eea05e"/>
<circle cx="218.09" cy="247.4" r="1.8" fill="#eea05e"/>
<circle cx="234.70" cy="247.4" r="1.8" fill="#eea05e"/>
<circle cx="251.31" cy="247.4" r="1.8" fill="#eea05e"/>
<circle cx="267.92" cy="284.8" r="1.8" fill="#eea05e"/>
<circle cx="284.53" cy="265.7" r="1.8" fill="#eea05e"/>
<circle cx="301.14" cy="247.4" r="1.8" fill="#eea05e"/>
<circle cx="317.75" cy="265.7" r="1.8" fill="#eea05e"/>
<circle cx="334.36" cy="247.4" r="1.8" fill="#eea05e"/>
<circle cx="350.97" cy="247.4" r="1.8" fill="#eea05e"/>
<circle cx="367.58" cy="247.4" r="1.8" fill="#eea05e"/>
<circle cx="384.19" cy="284.8" r="1.8" fill="#eea05e"/>
<circle cx="400.80" cy="247.4" r="1.8" fill="#eea05e"/>
<circle cx="417.41" cy="247.4" r="1.8" fill="#eea05e"/>
<circle cx="434.02" cy="265.7" r="1.8" fill="#eea05e"/>
<circle cx="450.63" cy="247.4" r="1.8" fill="#eea05e"/>
<circle cx="467.24" cy="247.4" r="1.8" fill="#eea05e"/>
<circle cx="483.85" cy="265.7" r="1.8" fill="#eea05e"/>
<circle cx="500.46" cy="247.4" r="1.8" fill="#eea05e"/>
<circle cx="517.07" cy="265.7" r="1.8" fill="#eea05e"/>
<circle cx="533.68" cy="247.4" r="1.8" fill="#eea05e"/>
<circle cx="550.29" cy="284.8" r="1.8" fill="#eea05e"/>
<circle cx="566.90" cy="265.7" r="1.8" fill="#eea05e"/>
<text x="69.60" y="293.7" font-size="6.6" text-anchor="end" fill="#333" stroke="#333" stroke-width="0.06" transform="rotate(-45 69.60 293.7)">大分</text>
<text x="86.21" y="293.7" font-size="6.6" text-anchor="end" fill="#333" stroke="#333" stroke-width="0.06" transform="rotate(-45 86.21 293.7)">川崎F</text>
<text x="102.82" y="293.7" font-size="6.6" text-anchor="end" fill="#333" stroke="#333" stroke-width="0.06" transform="rotate(-45 102.82 293.7)">湘南</text>
<text x="119.43" y="293.7" font-size="6.6" text-anchor="end" fill="#333" stroke="#333" stroke-width="0.06" transform="rotate(-45 119.43 293.7)">札幌</text>
<text x="136.04" y="293.7" font-size="6.6" text-anchor="end" fill="#333" stroke="#333" stroke-width="0.06" transform="rotate(-45 136.04 293.7)">磐田</text>
<text x="152.65" y="293.7" font-size="6.6" text-anchor="end" fill="#333" stroke="#333" stroke-width="0.06" transform="rotate(-45 152.65 293.7)">名古屋</text>
<text x="169.26" y="293.7" font-size="6.6" text-anchor="end" fill="#333" stroke="#333" stroke-width="0.06" transform="rotate(-45 169.26 293.7)">FC東京</text>
<text x="185.87" y="293.7" font-size="6.6" text-anchor="end" fill="#333" stroke="#333" stroke-width="0.06" transform="rotate(-45 185.87 293.7)">仙台</text>
<text x="202.48" y="293.7" font-size="6.6" text-anchor="end" fill="#333" stroke="#333" stroke-width="0.06" transform="rotate(-45 202.48 293.7)">横浜FM</text>
<text x="219.09" y="293.7" font-size="6.6" text-anchor="end" fill="#333" stroke="#333" stroke-width="0.06" transform="rotate(-45 219.09 293.7)">清水</text>
<text x="235.70" y="293.7" font-size="6.6" text-anchor="end" fill="#333" stroke="#333" stroke-width="0.06" transform="rotate(-45 235.70 293.7)">神戸</text>
<text x="252.31" y="293.7" font-size="6.6" text-anchor="end" fill="#333" stroke="#333" stroke-width="0.06" transform="rotate(-45 252.31 293.7)">松本</text>
<text x="268.92" y="293.7" font-size="6.6" text-anchor="end" fill="#333" stroke="#333" stroke-width="0.06" transform="rotate(-45 268.92 293.7)">鳥栖</text>
<text x="285.53" y="293.7" font-size="6.6" text-anchor="end" fill="#333" stroke="#333" stroke-width="0.06" transform="rotate(-45 285.53 293.7)">G大阪</text>
<text x="302.14" y="293.7" font-size="6.6" text-anchor="end" fill="#333" stroke="#333" stroke-width="0.06" transform="rotate(-45 302.14 293.7)">C大阪</text>
<text x="318.75" y="293.7" font-size="6.6" text-anchor="end" fill="#333" stroke="#333" stroke-width="0.06" transform="rotate(-45 318.75 293.7)">広島</text>
<text x="335.36" y="293.7" font-size="6.6" text-anchor="end" fill="#333" stroke="#333" stroke-width="0.06" transform="rotate(-45 335.36 293.7)">磐田</text>
<text x="351.97" y="293.7" font-size="6.6" text-anchor="end" fill="#333" stroke="#333" stroke-width="0.06" transform="rotate(-45 351.97 293.7)">仙台</text>
<text x="368.58" y="293.7" font-size="6.6" text-anchor="end" fill="#333" stroke="#333" stroke-width="0.06" transform="rotate(-45 368.58 293.7)">鳥栖</text>
<text x="385.19" y="293.7" font-size="6.6" text-anchor="end" fill="#333" stroke="#333" stroke-width="0.06" transform="rotate(-45 385.19 293.7)">湘南</text>
<text x="401.80" y="293.7" font-size="6.6" text-anchor="end" fill="#333" stroke="#333" stroke-width="0.06" transform="rotate(-45 401.80 293.7)">横浜FM</text>
<text x="418.41" y="293.7" font-size="6.6" text-anchor="end" fill="#333" stroke="#333" stroke-width="0.06" transform="rotate(-45 418.41 293.7)">大分</text>
<text x="435.02" y="293.7" font-size="6.6" text-anchor="end" fill="#333" stroke="#333" stroke-width="0.06" transform="rotate(-45 435.02 293.7)">G大阪</text>
<text x="451.63" y="293.7" font-size="6.6" text-anchor="end" fill="#333" stroke="#333" stroke-width="0.06" transform="rotate(-45 451.63 293.7)">清水</text>
<text x="468.24" y="293.7" font-size="6.6" text-anchor="end" fill="#333" stroke="#333" stroke-width="0.06" transform="rotate(-45 468.24 293.7)">FC東京</text>
<text x="484.85" y="293.7" font-size="6.6" text-anchor="end" fill="#333" stroke="#333" stroke-width="0.06" transform="rotate(-45 484.85 293.7)">札幌</text>
<text x="501.46" y="293.7" font-size="6.6" text-anchor="end" fill="#333" stroke="#333" stroke-width="0.06" transform="rotate(-45 501.46 293.7)">C大阪</text>
<text x="518.07" y="293.7" font-size="6.6" text-anchor="end" fill="#333" stroke="#333" stroke-width="0.06" transform="rotate(-45 518.07 293.7)">松本</text>
<text x="534.68" y="293.7" font-size="6.6" text-anchor="end" fill="#333" stroke="#333" stroke-width="0.06" transform="rotate(-45 534.68 293.7)">浦和</text>
<text x="551.29" y="293.7" font-size="6.6" text-anchor="end" fill="#333" stroke="#333" stroke-width="0.06" transform="rotate(-45 551.29 293.7)">川崎F</text>
<text x="567.90" y="293.7" font-size="6.6" text-anchor="end" fill="#333" stroke="#333" stroke-width="0.06" transform="rotate(-45 567.90 293.7)">広島</text>
<text x="2" y="334.7" font-size="8.2" text-anchor="start" fill="#222" font-weight="normal"  stroke="#222" stroke-width="0.12" textLength="107" lengthAdjust="spacingAndGlyphs">2019シーズン勝敗 : 神戸(10位)</text>
<rect x="15.5" y="342.0" width="566" height="89.69999999999999" fill="#fff" stroke="#bfbfbf" stroke-width="1"/>
<line x1="57" y1="347.9" x2="575" y2="347.9" stroke="#c6c6c6" stroke-width="1"/>
<line x1="57" y1="369.7" x2="575" y2="369.7" stroke="#c6c6c6" stroke-width="1"/>
<line x1="57" y1="392.6" x2="575" y2="392.6" stroke="#c6c6c6" stroke-width="1"/>
<line x1="57.91" y1="392.6" x2="57.91" y2="394.6" stroke="#bdbdbd" stroke-width="0.8"/>
<line x1="74.09" y1="392.6" x2="74.09" y2="394.6" stroke="#bdbdbd" stroke-width="0.8"/>
<line x1="90.27" y1="392.6" x2="90.27" y2="394.6" stroke="#bdbdbd" stroke-width="0.8"/>
<line x1="106.44" y1="392.6" x2="106.44" y2="394.6" stroke="#bdbdbd" stroke-width="0.8"/>
<line x1="122.62" y1="392.6" x2="122.62" y2="394.6" stroke="#bdbdbd" stroke-width="0.8"/>
<line x1="138.80" y1="392.6" x2="138.80" y2="394.6" stroke="#bdbdbd" stroke-width="0.8"/>
<line x1="154.98" y1="392.6" x2="154.98" y2="394.6" stroke="#bdbdbd" stroke-width="0.8"/>
<line x1="171.15" y1="392.6" x2="171.15" y2="394.6" stroke="#bdbdbd" stroke-width="0.8"/>
<line x1="187.33" y1="392.6" x2="187.33" y2="394.6" stroke="#bdbdbd" stroke-width="0.8"/>
<line x1="203.51" y1="392.6" x2="203.51" y2="394.6" stroke="#bdbdbd" stroke-width="0.8"/>
<line x1="219.69" y1="392.6" x2="219.69" y2="394.6" stroke="#bdbdbd" stroke-width="0.8"/>
<line x1="235.86" y1="392.6" x2="235.86" y2="394.6" stroke="#bdbdbd" stroke-width="0.8"/>
<line x1="252.04" y1="392.6" x2="252.04" y2="394.6" stroke="#bdbdbd" stroke-width="0.8"/>
<line x1="268.22" y1="392.6" x2="268.22" y2="394.6" stroke="#bdbdbd" stroke-width="0.8"/>
<line x1="284.40" y1="392.6" x2="284.40" y2="394.6" stroke="#bdbdbd" stroke-width="0.8"/>
<line x1="300.57" y1="392.6" x2="300.57" y2="394.6" stroke="#bdbdbd" stroke-width="0.8"/>
<line x1="316.75" y1="392.6" x2="316.75" y2="394.6" stroke="#bdbdbd" stroke-width="0.8"/>
<line x1="332.93" y1="392.6" x2="332.93" y2="394.6" stroke="#bdbdbd" stroke-width="0.8"/>
<line x1="349.10" y1="392.6" x2="349.10" y2="394.6" stroke="#bdbdbd" stroke-width="0.8"/>
<line x1="365.28" y1="392.6" x2="365.28" y2="394.6" stroke="#bdbdbd" stroke-width="0.8"/>
<line x1="381.46" y1="392.6" x2="381.46" y2="394.6" stroke="#bdbdbd" stroke-width="0.8"/>
<line x1="397.64" y1="392.6" x2="397.64" y2="394.6" stroke="#bdbdbd" stroke-width="0.8"/>
<line x1="413.81" y1="392.6" x2="413.81" y2="394.6" stroke="#bdbdbd" stroke-width="0.8"/>
<line x1="429.99" y1="392.6" x2="429.99" y2="394.6" stroke="#bdbdbd" stroke-width="0.8"/>
<line x1="446.17" y1="392.6" x2="446.17" y2="394.6" stroke="#bdbdbd" stroke-width="0.8"/>
<line x1="462.35" y1="392.6" x2="462.35" y2="394.6" stroke="#bdbdbd" stroke-width="0.8"/>
<line x1="478.52" y1="392.6" x2="478.52" y2="394.6" stroke="#bdbdbd" stroke-width="0.8"/>
<line x1="494.70" y1="392.6" x2="494.70" y2="394.6" stroke="#bdbdbd" stroke-width="0.8"/>
<line x1="510.88" y1="392.6" x2="510.88" y2="394.6" stroke="#bdbdbd" stroke-width="0.8"/>
<line x1="527.06" y1="392.6" x2="527.06" y2="394.6" stroke="#bdbdbd" stroke-width="0.8"/>
<line x1="543.23" y1="392.6" x2="543.23" y2="394.6" stroke="#bdbdbd" stroke-width="0.8"/>
<line x1="559.41" y1="392.6" x2="559.41" y2="394.6" stroke="#bdbdbd" stroke-width="0.8"/>
<line x1="575.59" y1="392.6" x2="575.59" y2="394.6" stroke="#bdbdbd" stroke-width="0.8"/>
<text x="39.7" y="352.0" font-size="7.5" text-anchor="middle" fill="#222" font-weight="normal"  stroke="#222" stroke-width="0.2">勝</text>
<text x="40.4" y="372.8" font-size="7.5" text-anchor="middle" fill="#222" font-weight="normal"  stroke="#222" stroke-width="0.2">引分</text>
<text x="40.1" y="393.9" font-size="7.5" text-anchor="middle" fill="#222" font-weight="normal"  stroke="#222" stroke-width="0.2">負</text>
<polyline points="66.00,392.6 82.18,347.9 98.35,347.9 114.53,369.7 130.71,347.9 146.89,392.6 163.06,392.6 179.24,392.6 195.42,392.6 211.60,392.6 227.77,392.6 243.95,392.6 260.13,347.9 276.31,369.7 292.48,347.9 308.66,369.7 324.84,347.9 341.02,392.6 357.19,392.6 373.37,392.6 389.55,369.7 405.73,369.7 421.90,347.9 438.08,347.9 454.26,392.6 470.44,347.9 486.61,347.9 502.79,392.6 518.97,392.6 535.15,347.9 551.32,392.6 567.50,347.9" fill="none" stroke="#eea05e" stroke-width="1.9" stroke-linejoin="round"/>
<circle cx="66.00" cy="392.6" r="1.8" fill="#eea05e"/>
<circle cx="82.18" cy="347.9" r="1.8" fill="#eea05e"/>
<circle cx="98.35" cy="347.9" r="1.8" fill="#eea05e"/>
<circle cx="114.53" cy="369.7" r="1.8" fill="#eea05e"/>
<circle cx="130.71" cy="347.9" r="1.8" fill="#eea05e"/>
<circle cx="146.89" cy="392.6" r="1.8" fill="#eea05e"/>
<circle cx="163.06" cy="392.6" r="1.8" fill="#eea05e"/>
<circle cx="179.24" cy="392.6" r="1.8" fill="#eea05e"/>
<circle cx="195.42" cy="392.6" r="1.8" fill="#eea05e"/>
<circle cx="211.60" cy="392.6" r="1.8" fill="#eea05e"/>
<circle cx="227.77" cy="392.6" r="1.8" fill="#eea05e"/>
<circle cx="243.95" cy="392.6" r="1.8" fill="#eea05e"/>
<circle cx="260.13" cy="347.9" r="1.8" fill="#eea05e"/>
<circle cx="276.31" cy="369.7" r="1.8" fill="#eea05e"/>
<circle cx="292.48" cy="347.9" r="1.8" fill="#eea05e"/>
<circle cx="308.66" cy="369.7" r="1.8" fill="#eea05e"/>
<circle cx="324.84" cy="347.9" r="1.8" fill="#eea05e"/>
<circle cx="341.02" cy="392.6" r="1.8" fill="#eea05e"/>
<circle cx="357.19" cy="392.6" r="1.8" fill="#eea05e"/>
<circle cx="373.37" cy="392.6" r="1.8" fill="#eea05e"/>
<circle cx="389.55" cy="369.7" r="1.8" fill="#eea05e"/>
<circle cx="405.73" cy="369.7" r="1.8" fill="#eea05e"/>
<circle cx="421.90" cy="347.9" r="1.8" fill="#eea05e"/>
<circle cx="438.08" cy="347.9" r="1.8" fill="#eea05e"/>
<circle cx="454.26" cy="392.6" r="1.8" fill="#eea05e"/>
<circle cx="470.44" cy="347.9" r="1.8" fill="#eea05e"/>
<circle cx="486.61" cy="347.9" r="1.8" fill="#eea05e"/>
<circle cx="502.79" cy="392.6" r="1.8" fill="#eea05e"/>
<circle cx="518.97" cy="392.6" r="1.8" fill="#eea05e"/>
<circle cx="535.15" cy="347.9" r="1.8" fill="#eea05e"/>
<circle cx="551.32" cy="392.6" r="1.8" fill="#eea05e"/>
<circle cx="567.50" cy="347.9" r="1.8" fill="#eea05e"/>
<text x="67.00" y="401.5" font-size="6.6" text-anchor="end" fill="#333" stroke="#333" stroke-width="0.06" transform="rotate(-45 67.00 401.5)">C大阪</text>
<text x="83.18" y="401.5" font-size="6.6" text-anchor="end" fill="#333" stroke="#333" stroke-width="0.06" transform="rotate(-45 83.18 401.5)">鳥栖</text>
<text x="99.35" y="401.5" font-size="6.6" text-anchor="end" fill="#333" stroke="#333" stroke-width="0.06" transform="rotate(-45 99.35 401.5)">仙台</text>
<text x="115.53" y="401.5" font-size="6.6" text-anchor="end" fill="#333" stroke="#333" stroke-width="0.06" transform="rotate(-45 115.53 401.5)">清水</text>
<text x="131.71" y="401.5" font-size="6.6" text-anchor="end" fill="#333" stroke="#333" stroke-width="0.06" transform="rotate(-45 131.71 401.5)">G大阪</text>
<text x="147.89" y="401.5" font-size="6.6" text-anchor="end" fill="#333" stroke="#333" stroke-width="0.06" transform="rotate(-45 147.89 401.5)">松本</text>
<text x="164.06" y="401.5" font-size="6.6" text-anchor="end" fill="#333" stroke="#333" stroke-width="0.06" transform="rotate(-45 164.06 401.5)">広島</text>
<text x="180.24" y="401.5" font-size="6.6" text-anchor="end" fill="#333" stroke="#333" stroke-width="0.06" transform="rotate(-45 180.24 401.5)">浦和</text>
<text x="196.42" y="401.5" font-size="6.6" text-anchor="end" fill="#333" stroke="#333" stroke-width="0.06" transform="rotate(-45 196.42 401.5)">川崎F</text>
<text x="212.60" y="401.5" font-size="6.6" text-anchor="end" fill="#333" stroke="#333" stroke-width="0.06" transform="rotate(-45 212.60 401.5)">札幌</text>
<text x="228.77" y="401.5" font-size="6.6" text-anchor="end" fill="#333" stroke="#333" stroke-width="0.06" transform="rotate(-45 228.77 401.5)">鹿島</text>
<text x="244.95" y="401.5" font-size="6.6" text-anchor="end" fill="#333" stroke="#333" stroke-width="0.06" transform="rotate(-45 244.95 401.5)">横浜FM</text>
<text x="261.13" y="401.5" font-size="6.6" text-anchor="end" fill="#333" stroke="#333" stroke-width="0.06" transform="rotate(-45 261.13 401.5)">湘南</text>
<text x="277.31" y="401.5" font-size="6.6" text-anchor="end" fill="#333" stroke="#333" stroke-width="0.06" transform="rotate(-45 277.31 401.5)">磐田</text>
<text x="293.48" y="401.5" font-size="6.6" text-anchor="end" fill="#333" stroke="#333" stroke-width="0.06" transform="rotate(-45 293.48 401.5)">FC東京</text>
<text x="309.66" y="401.5" font-size="6.6" text-anchor="end" fill="#333" stroke="#333" stroke-width="0.06" transform="rotate(-45 309.66 401.5)">大分</text>
<text x="325.84" y="401.5" font-size="6.6" text-anchor="end" fill="#333" stroke="#333" stroke-width="0.06" transform="rotate(-45 325.84 401.5)">名古屋</text>
<text x="342.02" y="401.5" font-size="6.6" text-anchor="end" fill="#333" stroke="#333" stroke-width="0.06" transform="rotate(-45 342.02 401.5)">清水</text>
<text x="358.19" y="401.5" font-size="6.6" text-anchor="end" fill="#333" stroke="#333" stroke-width="0.06" transform="rotate(-45 358.19 401.5)">湘南</text>
<text x="374.37" y="401.5" font-size="6.6" text-anchor="end" fill="#333" stroke="#333" stroke-width="0.06" transform="rotate(-45 374.37 401.5)">横浜FM</text>
<text x="390.55" y="401.5" font-size="6.6" text-anchor="end" fill="#333" stroke="#333" stroke-width="0.06" transform="rotate(-45 390.55 401.5)">G大阪</text>
<text x="406.73" y="401.5" font-size="6.6" text-anchor="end" fill="#333" stroke="#333" stroke-width="0.06" transform="rotate(-45 406.73 401.5)">大分</text>
<text x="422.90" y="401.5" font-size="6.6" text-anchor="end" fill="#333" stroke="#333" stroke-width="0.06" transform="rotate(-45 422.90 401.5)">浦和</text>
<text x="439.08" y="401.5" font-size="6.6" text-anchor="end" fill="#333" stroke="#333" stroke-width="0.06" transform="rotate(-45 439.08 401.5)">鳥栖</text>
<text x="455.26" y="401.5" font-size="6.6" text-anchor="end" fill="#333" stroke="#333" stroke-width="0.06" transform="rotate(-45 455.26 401.5)">札幌</text>
<text x="471.44" y="401.5" font-size="6.6" text-anchor="end" fill="#333" stroke="#333" stroke-width="0.06" transform="rotate(-45 471.44 401.5)">松本</text>
<text x="487.61" y="401.5" font-size="6.6" text-anchor="end" fill="#333" stroke="#333" stroke-width="0.06" transform="rotate(-45 487.61 401.5)">川崎F</text>
<text x="503.79" y="401.5" font-size="6.6" text-anchor="end" fill="#333" stroke="#333" stroke-width="0.06" transform="rotate(-45 503.79 401.5)">広島</text>
<text x="519.97" y="401.5" font-size="6.6" text-anchor="end" fill="#333" stroke="#333" stroke-width="0.06" transform="rotate(-45 519.97 401.5)">FC東京</text>
<text x="536.15" y="401.5" font-size="6.6" text-anchor="end" fill="#333" stroke="#333" stroke-width="0.06" transform="rotate(-45 536.15 401.5)">仙台</text>
<text x="552.32" y="401.5" font-size="6.6" text-anchor="end" fill="#333" stroke="#333" stroke-width="0.06" transform="rotate(-45 552.32 401.5)">名古屋</text>
<text x="568.50" y="401.5" font-size="6.6" text-anchor="end" fill="#333" stroke="#333" stroke-width="0.06" transform="rotate(-45 568.50 401.5)">C大阪</text>
<line x1="599.5" y1="0" x2="599.5" y2="434" stroke="#c4c2c8" stroke-width="1"/>
<line x1="0.5" y1="0" x2="0.5" y2="114" stroke="#cdbdb4" stroke-width="1"/>
<line x1="0.5" y1="114" x2="0.5" y2="434" stroke="#c4c4cc" stroke-width="1"/>
<line x1="595.8" y1="0" x2="595.8" y2="434" stroke="#ffffff" stroke-opacity="0.3" stroke-width="1"/>
<line x1="0" y1="433.5" x2="600" y2="433.5" stroke="#b8b4c0" stroke-width="1"/>
</svg></body></html>
